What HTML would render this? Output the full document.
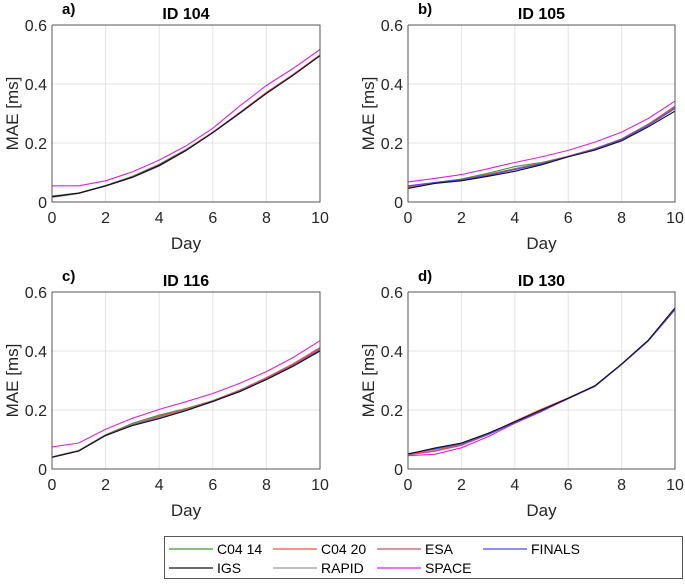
<!DOCTYPE html>
<html><head><meta charset="utf-8"><style>
body{margin:0;background:#fff;width:685px;height:581px;overflow:hidden;font-family:"Liberation Sans",Arial,sans-serif}
text{font-family:"Liberation Sans",Arial,sans-serif}
</style></head><body>
<svg id="fig" width="685" height="581"></svg>
<script>
const days=[0,1,2,3,4,5,6,7,8,9,10];
const seriesNames=["C04 14","C04 20","ESA","FINALS","IGS","RAPID","SPACE"];
const seriesColors=["#3a9a3a","#ff4a4a","#c05868","#4848ff","#111111","#9a9a9a","#e020e0"];
const panelTitles=["ID 104","ID 105","ID 116","ID 130"];
const panelLetters=["a)","b)","c)","d)"];
const yTicks=[0,0.2,0.4,0.6];
const xTicks=[0,2,4,6,8,10];
const p104=[
[0.020,0.031,0.056,0.087,0.128,0.178,0.236,0.302,0.368,0.430,0.497],
[0.016,0.029,0.055,0.085,0.126,0.176,0.237,0.303,0.372,0.433,0.499],
[0.017,0.030,0.055,0.085,0.125,0.175,0.236,0.302,0.370,0.431,0.497],
[0.018,0.030,0.054,0.083,0.122,0.174,0.235,0.300,0.368,0.430,0.496],
[0.018,0.030,0.055,0.084,0.124,0.175,0.235,0.301,0.368,0.430,0.496],
[0.018,0.030,0.055,0.085,0.125,0.175,0.235,0.301,0.369,0.431,0.497],
[0.055,0.055,0.072,0.102,0.142,0.190,0.250,0.325,0.395,0.453,0.517]];
const p105=[
[0.052,0.066,0.078,0.098,0.120,0.134,0.155,0.180,0.212,0.262,0.322],
[0.050,0.065,0.076,0.093,0.112,0.131,0.155,0.181,0.214,0.264,0.325],
[0.051,0.065,0.077,0.094,0.113,0.132,0.155,0.181,0.213,0.263,0.323],
[0.055,0.066,0.076,0.090,0.110,0.129,0.154,0.179,0.212,0.260,0.318],
[0.046,0.063,0.072,0.087,0.104,0.126,0.153,0.176,0.207,0.255,0.308],
[0.050,0.065,0.075,0.091,0.110,0.130,0.154,0.179,0.210,0.259,0.316],
[0.068,0.080,0.093,0.113,0.134,0.153,0.175,0.203,0.237,0.283,0.342]];
const p116=[
[0.041,0.063,0.116,0.155,0.183,0.205,0.232,0.267,0.307,0.353,0.410],
[0.040,0.062,0.115,0.150,0.180,0.203,0.231,0.267,0.310,0.357,0.412],
[0.040,0.062,0.115,0.151,0.178,0.202,0.231,0.266,0.308,0.354,0.408],
[0.039,0.061,0.113,0.148,0.172,0.198,0.228,0.263,0.304,0.350,0.403],
[0.040,0.061,0.114,0.147,0.171,0.198,0.229,0.262,0.303,0.348,0.400],
[0.040,0.062,0.115,0.149,0.175,0.200,0.230,0.265,0.306,0.352,0.405],
[0.075,0.088,0.135,0.172,0.202,0.228,0.256,0.290,0.330,0.378,0.435]];
const p130=[
[0.050,0.070,0.086,0.120,0.160,0.200,0.240,0.281,0.355,0.435,0.543],
[0.048,0.062,0.082,0.118,0.162,0.203,0.241,0.282,0.356,0.436,0.543],
[0.048,0.060,0.080,0.116,0.158,0.199,0.240,0.281,0.355,0.435,0.542],
[0.052,0.068,0.085,0.118,0.156,0.196,0.238,0.280,0.354,0.434,0.540],
[0.051,0.071,0.088,0.121,0.160,0.200,0.240,0.282,0.356,0.437,0.546],
[0.049,0.066,0.084,0.118,0.158,0.198,0.239,0.281,0.355,0.435,0.542],
[0.045,0.050,0.072,0.110,0.155,0.195,0.240,0.280,0.355,0.435,0.540]];
const panelData=[p104,p105,p116,p130];

const NS="http://www.w3.org/2000/svg";
const svg=document.getElementById("fig");
function mk(tag,attrs,parent){const e=document.createElementNS(NS,tag);for(const k in attrs)e.setAttribute(k,attrs[k]);(parent||svg).appendChild(e);return e;}
const boxes=[{l:52,r:320,t:25,b:202},{l:408,r:675,t:25,b:202},{l:52,r:320,t:292,b:469},{l:408,r:675,t:292,b:469}];
boxes.forEach((bx,pi)=>{
  const g=mk("g",{});
  
  
  const xs=v=>bx.l+(v/10)*(bx.r-bx.l);
  const ys=v=>bx.b-(v/0.6)*(bx.b-bx.t);
  xTicks.forEach(t=>{
    const gl=mk("line",{x1:xs(t),x2:xs(t),y1:bx.t,y2:bx.b,stroke:"#e3e3e3","stroke-width":1},g);
    
    
    const tl=mk("text",{x:xs(t),y:bx.b+21,"text-anchor":"middle","font-size":"16",fill:"#262626"},g);
    tl.textContent=t;
    
    
  });
  yTicks.forEach(t=>{
    const gl=mk("line",{x1:bx.l,x2:bx.r,y1:ys(t),y2:ys(t),stroke:"#e3e3e3","stroke-width":1},g);
    
    
    const tl=mk("text",{x:bx.l-5,y:ys(t)+6,"text-anchor":"end","font-size":"16",fill:"#262626"},g);
    tl.textContent=t;
    
    
  });
  const data=panelData[pi];
  const order=[5,6,0,1,2,3,4];
  order.forEach(si=>{
    const pts=days.map((d,i)=>xs(d).toFixed(1)+","+ys(data[si][i]).toFixed(1)).join(" ");
    const pl=mk("polyline",{points:pts,fill:"none",stroke:seriesColors[si],"stroke-width":1.1},g);
    
    
  });
  const ax=mk("path",{d:`M${bx.l},${bx.t}V${bx.b}H${bx.r}V${bx.t}H${bx.l}`,fill:"none",stroke:"#555","stroke-width":1},g);
  
  
  const xl=mk("text",{x:(bx.l+bx.r)/2,y:bx.b+47,"text-anchor":"middle","font-size":"17",fill:"#262626"},g);
  xl.textContent="Day";
  
  
  const cy=(bx.t+bx.b)/2;
  const ylx=bx.l-34;
  const yl=mk("text",{x:ylx,y:cy,"text-anchor":"middle","font-size":"17",fill:"#262626",transform:`rotate(-90 ${ylx} ${cy})`},g);
  yl.textContent="MAE [ms]";
  
  
  const ti=mk("text",{x:(bx.l+bx.r)/2,y:bx.t-6,"text-anchor":"middle","font-size":"16","font-weight":"bold",fill:"#000"},g);
  ti.textContent=panelTitles[pi];
  
  
  const le=mk("text",{x:bx.l+10,y:bx.t-11,"font-size":"15","font-weight":"bold",fill:"#000"},g);
  le.textContent=panelLetters[pi];
  
  
});
const lg=mk("g",{});


const lb=mk("rect",{x:164.5,y:536.5,width:518,height:42,fill:"#fff",stroke:"#555","stroke-width":1},lg);


const colX=[169,273,377,483];
seriesNames.forEach((n,i)=>{
  const r=Math.floor(i/4),c=i%4;
  const y=r===0?549:568;
  const ln=mk("line",{x1:colX[c],x2:colX[c]+44,y1:y,y2:y,stroke:seriesColors[i],"stroke-width":1.2},lg);
  
  
  const t=mk("text",{x:colX[c]+48,y:y+5,"font-size":"14",fill:"#000"},lg);
  t.textContent=n;
  
  
});
</script>
</body></html>
